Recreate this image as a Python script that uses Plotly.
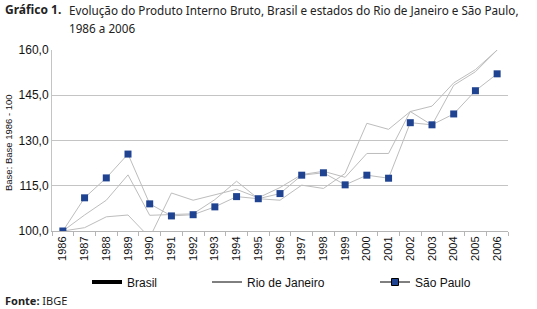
import plotly.graph_objects as go

years = [str(y) for y in range(1986, 2007)]
brasil = [100, 101.1, 104.7, 105.3, 97.8, 112.6, 110.2, 112.0, 113.8, 111.0, 114.4,
          118.7, 119.8, 117.8, 125.7, 125.7, 139.6, 135.1, 148.3, 152.8, 160.0]
rio = [100, 105.3, 110.2, 118.6, 105.2, 105.5, 105.7, 110.4, 116.5, 110.7, 110.2,
       115.2, 114.1, 119.1, 135.7, 133.7, 139.6, 141.4, 149.1, 153.5, 160.0]
sao_paulo = [100, 111.0, 117.6, 125.5, 109.0, 105.0, 105.4, 108.0, 111.4, 110.7, 112.4,
             118.5, 119.3, 115.3, 118.5, 117.5, 135.9, 135.2, 138.8, 146.5, 152.1]
y_ticks = [100, 115, 130, 145, 160]
y_tick_labels = ["100,0", "115,0", "130,0", "145,0", "160,0"]

W, H = 537, 309
L, R, T, B = 52, 29, 50, 78
PW, PH = W - L - R, H - T - B


def px_x(X):
    return (X - L) / PW


def px_y(Y):
    return (H - B - Y) / PH


LINE_GRAY = "#bdbdbd"
NAVY = "#1f4391"
FONT = "Liberation Sans, Arial, sans-serif"
TFONT = "Noto Sans, Open Sans, sans-serif"

fig = go.Figure()
fig.add_trace(go.Scatter(x=years, y=brasil, mode="lines", line=dict(color=LINE_GRAY, width=1),
                         showlegend=False, hoverinfo="skip"))
fig.add_trace(go.Scatter(x=years, y=rio, mode="lines", line=dict(color=LINE_GRAY, width=1),
                         showlegend=False, hoverinfo="skip"))
fig.add_trace(go.Scatter(x=years, y=sao_paulo, mode="lines+markers",
                         line=dict(color=LINE_GRAY, width=1),
                         marker=dict(symbol="square", size=7, color=NAVY, line=dict(width=0)),
                         showlegend=False))

# legend entries
fig.add_trace(go.Scatter(x=[None], y=[None], mode="lines", name="Brasil",
                         line=dict(color="black", width=4), legend="legend"))
fig.add_trace(go.Scatter(x=[None], y=[None], mode="lines", name="Rio de Janeiro",
                         line=dict(color="black", width=1), legend="legend2"))
fig.add_trace(go.Scatter(x=[None], y=[None], mode="lines+markers", name="São Paulo",
                         line=dict(color="black", width=1),
                         marker=dict(symbol="square", size=7, color=NAVY,
                                     line=dict(color="black", width=1)),
                         legend="legend3"))

leg_common = dict(orientation="h", xanchor="left", yanchor="middle",
                  bgcolor="rgba(0,0,0,0)", borderwidth=0,
                  font=dict(family=FONT, size=12, color="#111"))
fig.update_layout(
    width=W, height=H,
    margin=dict(l=L, r=R, t=T, b=B, pad=0),
    paper_bgcolor="white", plot_bgcolor="white",
    legend=dict(x=px_x(87), y=px_y(282), **leg_common),
    legend2=dict(x=px_x(207), y=px_y(282), **leg_common),
    legend3=dict(x=px_x(375), y=px_y(282), **leg_common),
    xaxis=dict(type="category", range=[-0.5, 20.5], tickangle=-90,
               tickfont=dict(family=FONT, size=11, color="#111"),
               showgrid=False, showline=True, linecolor="#b5b5b5", linewidth=1,
               ticks="outside", tickson="boundaries", ticklen=4, tickcolor="#b5b5b5",
               zeroline=False),
    yaxis=dict(range=[100, 160], tickvals=y_ticks, ticktext=y_tick_labels,
               tickfont=dict(family=FONT, size=12, color="#111"),
               showgrid=True, gridcolor="#c4c4c4", gridwidth=1,
               showline=True, linecolor="#c4c4c4", linewidth=1,
               ticks="", zeroline=False),
    showlegend=True,
)

annots = [
    dict(text="<b>Gráfico 1.</b>", x=px_x(3), y=px_y(10), xanchor="left", yanchor="middle",
         font=dict(family=TFONT, size=12, color="#222")),
    dict(text="Evolução do Produto Interno Bruto, Brasil e estados do Rio de Janeiro e São Paulo,",
         x=px_x(67), y=px_y(10), xanchor="left", yanchor="middle",
         font=dict(family=TFONT, size=11.7, color="#222")),
    dict(text="1986 a 2006", x=px_x(67), y=px_y(28), xanchor="left", yanchor="middle",
         font=dict(family=TFONT, size=11.7, color="#222")),
    dict(text="<b>Fonte:</b> IBGE", x=px_x(3), y=px_y(300), xanchor="left", yanchor="middle",
         font=dict(family=TFONT, size=11, color="#222")),
    dict(text="Base: Base 1986 - 100", x=px_x(8), y=px_y(143), xanchor="center", yanchor="middle",
         textangle=-90, font=dict(family=FONT, size=9.5, color="#111")),
]
for a in annots:
    fig.add_annotation(xref="paper", yref="paper", showarrow=False, **a)

fig.write_html("out.html", config={"displayModeBar": False},
               post_script="document.body.style.margin='0';document.body.style.overflow='hidden';")
